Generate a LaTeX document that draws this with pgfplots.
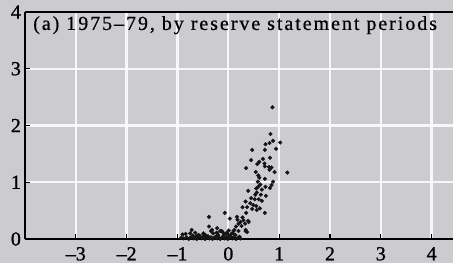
\documentclass[border=0pt]{standalone}
\usepackage{fontspec}
\setmainfont{Liberation Serif}[FakeBold=0.6]
\usepackage{pgfplots}
\pgfplotsset{compat=1.18}
\definecolor{bgc}{RGB}{204,204,208}
\definecolor{dotc}{RGB}{20,20,20}
\pgfdeclarelayer{bg}
\pgfsetlayers{bg,main}
\begin{document}
\begin{tikzpicture}
\begin{axis}[
  name=ax,
  scale only axis,
  width=12.84cm, height=6.81cm,
  xmin=-4, xmax=4.42, ymin=0, ymax=4,
  axis lines=left,
  axis line style={-, line width=1.1pt, black},
  tick align=inside,
  xtick={-3,-2,-1,0,1,2,3,4},
  xticklabels={--3,--2,--1,0,1,2,3,4},
  ytick={0,1,2,3,4},
  yticklabels={0,1,2,3,4},
  major tick length=0.16cm,
  tick style={black, line width=1pt},
  grid=major,
  major grid style={white, line width=2pt, opacity=0.85},
  ticklabel style={font=\fontsize{17}{20}\selectfont\addfontfeatures{FakeBold=1}},
  xticklabel style={inner sep=0.5pt, yshift=-0.22cm},
  clip=false,
]
\addplot[only marks, mark=*, mark size=1.55pt, color=dotc] coordinates {
(0.868,2.32) (0.828,1.85) (0.88,1.73) (0.81,1.69) (0.73,1.67) (1.02,1.70)
(0.94,1.59) (0.47,1.57) (0.72,1.57) (1.16,1.17) (0.45,1.39) (0.68,1.41)
(0.82,1.43) (0.61,1.36) (0.57,1.32) (0.71,1.33) (0.80,1.27) (0.85,1.26)
(0.72,1.28) (0.35,1.25) (0.91,1.18) (0.81,1.22) (0.54,1.18) (0.59,1.12)
(0.61,1.08) (0.58,1.01) (0.72,1.06) (0.88,1.01) (0.85,0.95) (0.63,0.96)
(0.59,0.92) (0.66,0.87) (0.55,0.89) (0.73,0.92) (0.82,0.90) (0.39,0.85)
(0.56,0.82) (0.53,0.78) (0.64,0.78) (0.74,0.76) (0.60,0.70) (0.66,0.67)
(0.45,0.72) (0.34,0.66) (0.43,0.63) (0.49,0.60) (0.37,0.56) (0.28,0.56)
(0.55,0.58) (0.62,0.54) (0.56,0.51) (0.72,0.46) (0.35,0.46) (-0.07,0.46)
(0.17,0.39) (0.03,0.36) (0.28,0.38) (0.39,0.32) (0.33,0.27) (0.20,0.27)
(-0.38,0.39) (0.26,0.23) (0.15,0.22) (0.34,0.16) (0.12,0.16) (0.20,0.14)
(-0.38,0.22) (-0.32,0.16) (-0.22,0.19) (0.09,0.10) (0.01,0.15) (-0.11,0.12)
(-0.16,0.14) (-0.72,0.16) (-0.65,0.11) (-0.49,0.10) (0.22,0.04) (0.34,0.14)
(0.40,0.30) (0.30,0.33) (0.24,0.30) (0.18,0.34) (0.52,0.70) (0.47,0.53)
(-0.93,0.02) (-0.88,0.01) (-0.82,0.03) (-0.78,0.0) (-0.75,0.02) (-0.72,0.04)
(-0.68,0.01) (-0.65,0.03) (-0.62,0.0) (-0.59,0.02) (-0.55,0.04) (-0.52,0.01)
(-0.49,0.03) (-0.46,0.0) (-0.43,0.02) (-0.40,0.05) (-0.37,0.01) (-0.34,0.03)
(-0.31,0.0) (-0.28,0.02) (-0.25,0.04) (-0.22,0.01) (-0.19,0.03) (-0.16,0.0)
(-0.13,0.02) (-0.10,0.05) (-0.07,0.01) (-0.04,0.03) (-0.01,0.0) (0.02,0.02)
(0.05,0.04) (0.08,0.01) (0.11,0.03) (0.15,0.0) (0.19,0.02) (0.24,0.01)
(-0.90,0.08) (-0.84,0.09) (-0.75,0.10) (-0.70,0.06) (-0.61,0.06) (-0.58,0.07)
(-0.49,0.08) (-0.45,0.07) (-0.34,0.14) (-0.30,0.10) (-0.23,0.11) (-0.20,0.07)
(-0.13,0.14) (-0.08,0.08) (-0.03,0.11) (0.00,0.07) (0.06,0.09) (0.10,0.14)
(0.14,0.07) (0.37,0.12)
};
\draw[line width=1.1pt, black] (rel axis cs:0,1) -- (rel axis cs:1,1);
\node[anchor=base west, inner sep=0pt, font=\fontsize{17}{20}\selectfont\addfontfeatures{LetterSpace=10}]
  at (axis description cs:0.0187,0.921) {(a) 1975--79, by reserve statement periods};
\end{axis}
\pgfresetboundingbox
\path[use as bounding box] ([xshift=-0.75cm,yshift=-0.72cm]ax.south west) rectangle ([yshift=0.36cm]ax.north east);
\begin{pgfonlayer}{bg}
\fill[bgc] ([xshift=-0.75cm,yshift=-0.72cm]ax.south west) rectangle ([yshift=0.36cm]ax.north east);
\end{pgfonlayer}
\end{tikzpicture}
\end{document}
